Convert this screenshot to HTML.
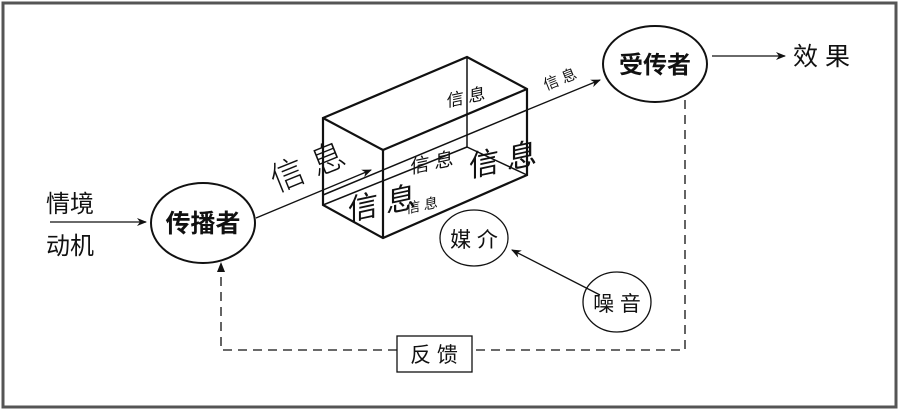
<!DOCTYPE html>
<html><head><meta charset="utf-8"><style>
html,body{margin:0;padding:0;background:#fff;}
svg text{font-family:"Liberation Sans","Noto Sans CJK SC",sans-serif;fill:#111;}
</style></head><body>
<svg width="900" height="411" viewBox="0 0 900 411" xmlns="http://www.w3.org/2000/svg">
<defs><marker id="a" markerWidth="10" markerHeight="8" refX="9" refY="4" orient="auto" markerUnits="userSpaceOnUse"><path d="M0,0 L10,4 L0,8 L3,4 Z" fill="#111"/></marker></defs>
<rect x="3" y="3" width="893" height="404" fill="none" stroke="#555" stroke-width="3"/>
<g stroke="#111" fill="none" stroke-width="2">
<ellipse cx="203" cy="223" rx="52" ry="40"/>
<ellipse cx="655" cy="64" rx="52" ry="38"/>
</g>
<g stroke="#111" fill="none" stroke-width="1.3">
<ellipse cx="474" cy="238" rx="34" ry="28"/>
<ellipse cx="617" cy="302" rx="34" ry="30"/>
<rect x="397" y="336" width="75" height="36"/>
</g>
<g stroke="#111" fill="none" stroke-width="2.2">
<polygon points="323,118 467,57 527,89 527,175 383,238 323,205"/>
<line x1="323" y1="118" x2="383" y2="150"/>
<line x1="383" y1="150" x2="527" y2="89"/>
<line x1="383" y1="150" x2="383" y2="238"/>
</g>
<g stroke="#111" fill="none" stroke-width="1.5">
<line x1="467" y1="57" x2="467" y2="147"/>
<line x1="323" y1="205" x2="467" y2="147"/>
<line x1="467" y1="147" x2="527" y2="175"/>
<line x1="323" y1="195" x2="527" y2="110"/>
</g>
<g stroke="#111" stroke-width="1.3" fill="none">
<line x1="50" y1="222" x2="146" y2="222" marker-end="url(#a)"/>
<line x1="256" y1="218" x2="371" y2="170" marker-end="url(#a)"/>
<line x1="527" y1="110" x2="600" y2="80" marker-end="url(#a)"/>
<line x1="712" y1="56" x2="785" y2="56" marker-end="url(#a)"/>
<line x1="600" y1="295" x2="512" y2="250" marker-end="url(#a)"/>
</g>
<g stroke="#111" stroke-width="1.3" fill="none" stroke-dasharray="9,6">
<polyline points="685,100 685,350 472,350"/>
<polyline points="397,350 221,350 221,268"/>
</g>
<path d="M217,272 L221,262 L225,272 Z" fill="#111"/>
<text x="46" y="212" font-size="24">情境</text>
<text x="46" y="254" font-size="24">动机</text>
<text x="203" y="232" font-size="25" font-weight="bold" text-anchor="middle">传播者</text>
<text x="655" y="73" font-size="24" font-weight="bold" text-anchor="middle">受传者</text>
<text x="793" y="65" font-size="25">效 果</text>
<text x="474" y="247" font-size="21" text-anchor="middle">媒 介</text>
<text x="617" y="311" font-size="21" text-anchor="middle">噪 音</text>
<text x="434" y="362" font-size="21" text-anchor="middle">反 馈</text>
<text x="312" y="178" font-size="34" text-anchor="middle" transform="rotate(-22 312 178)" font-weight="300">信 息</text>
<text x="382" y="214" font-size="30" text-anchor="middle" transform="skewY(-12) translate(0,81)">信 息</text>
<text x="432" y="169" font-size="19" text-anchor="middle" transform="skewY(-12) translate(0,92)">信 息</text>
<text x="503" y="170" font-size="30" text-anchor="middle" transform="skewY(-12) translate(0,107)">信 息</text>
<text x="466" y="103" font-size="17" text-anchor="middle" transform="skewY(-12) translate(0,99)">信 息</text>
<text x="422" y="210" font-size="14" text-anchor="middle" transform="skewY(-12) translate(0,90)">信 息</text>
<text x="562" y="84" font-size="15" text-anchor="middle" transform="rotate(-22 562 84)">信 息</text>
</svg>
</body></html>
